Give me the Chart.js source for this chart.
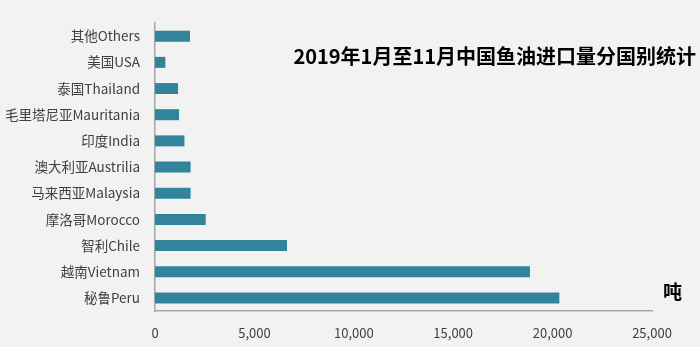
<!DOCTYPE html>
<html>
<head>
<meta charset="utf-8">
<script src="https://cdn.jsdelivr.net/npm/chart.js@4/dist/chart.umd.min.js"></script>
<style>
  html, body { margin: 0; padding: 0; background: #f2f2f2; }
  #wrap { width: 700px; height: 347px; position: relative; }
</style>
</head>
<body>
<div id="wrap"><canvas id="fishOil"></canvas></div>
<script>
// 2019年1-11月 鱼油进口量（吨），按来源国
var countries = [
  '其他Others', '美国USA', '泰国Thailand', '毛里塔尼亚Mauritania', '印度India',
  '澳大利亚Austrilia', '马来西亚Malaysia', '摩洛哥Morocco', '智利Chile',
  '越南Vietnam', '秘鲁Peru'
];
var tonnes = [1760, 520, 1160, 1210, 1480, 1790, 1790, 2550, 6640, 18860, 20340];
var xTicks = [0, 5000, 10000, 15000, 20000, 25000];

var titleText = '2019年1月至11月中国鱼油进口量分国别统计';
var unitText = '吨';

var labelFont = '"Liberation Sans Narrow", "Noto Sans CJK SC", sans-serif';

// title and unit are placed inside the plot, so draw them by hand
var overlayText = {
  id: 'overlayText',
  afterDraw: function (chart) {
    var ctx = chart.ctx;
    ctx.save();
    ctx.fillStyle = '#000';
    ctx.textBaseline = 'middle';
    ctx.textAlign = 'right';
    ctx.font = 'bold 20px "Noto Sans CJK SC", sans-serif';
    ctx.fillText(titleText, 696, 56);
    ctx.textAlign = 'left';
    ctx.font = 'bold 19px "Noto Sans CJK SC", sans-serif';
    ctx.fillText(unitText, 663, 292);
    ctx.restore();
  }
};

new Chart(document.getElementById('fishOil').getContext('2d'), {
  type: 'bar',
  data: {
    labels: countries.slice().reverse(),
    datasets: [{
      data: tonnes.slice().reverse(),
      backgroundColor: '#31849b',
      categoryPercentage: 1,
      barPercentage: 0.42
    }]
  },
  options: {
    indexAxis: 'y',
    responsive: true,
    maintainAspectRatio: false,
    animation: false,
    layout: { padding: { top: 17, right: 48, left: 0, bottom: 0 } },
    scales: {
      x: {
        min: 0,
        max: 25000,
        afterBuildTicks: function (scale) {
          scale.ticks = xTicks.map(function (v) { return { value: v }; });
        },
        afterFit: function (scale) { scale.height = 36; },
        grid: { display: false, drawTicks: false },
        border: { display: true, color: '#a6a6a6', width: 1.5 },
        ticks: {
          color: '#404040',
          padding: 14,
          maxRotation: 0,
          font: { family: labelFont, size: 13 },
          callback: function (v) { return v.toLocaleString('en-US'); }
        }
      },
      y: {
        reverse: true,
        afterFit: function (scale) { scale.width = 155; },
        grid: { display: false, drawTicks: false },
        border: { display: true, color: '#a6a6a6', width: 1.5 },
        ticks: {
          color: '#404040',
          padding: 15,
          font: { family: labelFont, size: 13.5 }
        }
      }
    },
    plugins: {
      legend: { display: false },
      tooltip: { enabled: false }
    }
  },
  plugins: [overlayText]
});
</script>
</body>
</html>
